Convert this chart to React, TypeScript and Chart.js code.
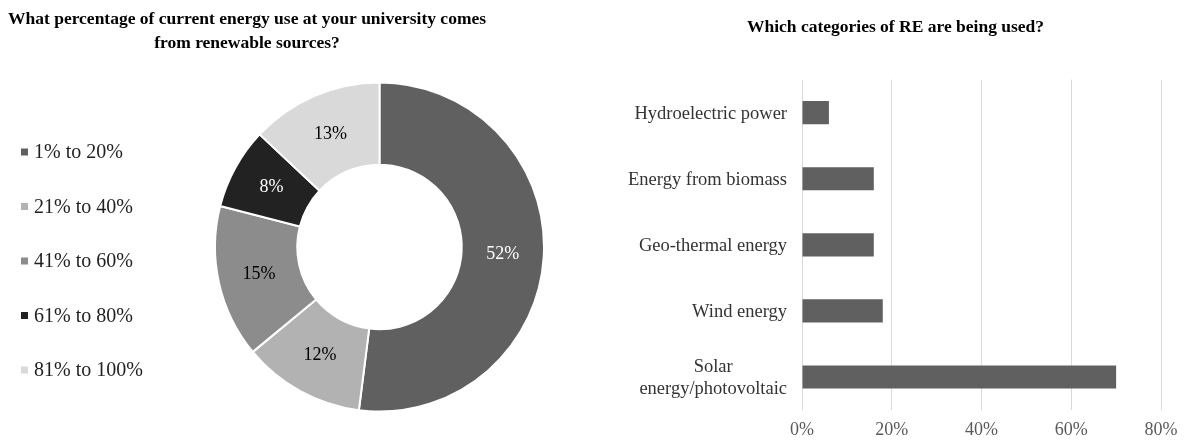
import React, { useEffect, useRef } from "react";
import { Chart, registerables } from "chart.js";

Chart.register(...registerables);

const FONT = '"Liberation Serif", "Times New Roman", serif';

// ---- Left chart data ----
const pieTitleLines = [
  "What percentage of current energy use at your university comes",
  "from renewable sources?",
];
const pieLabels = ["1% to 20%", "21% to 40%", "41% to 60%", "61% to 80%", "81% to 100%"];
const pieValues = [52, 12, 15, 8, 13];
const pieColors = ["#606060", "#b2b2b2", "#8c8c8c", "#222222", "#d9d9d9"];
const pieLabelColors = ["#ffffff", "#000000", "#000000", "#ffffff", "#000000"];

// ---- Right chart data ----
const barTitle = "Which categories of RE are being used?";
const barCategories = [
  ["Hydroelectric power"],
  ["Energy from biomass"],
  ["Geo-thermal energy"],
  ["Wind energy"],
  ["Solar", "energy/photovoltaic"],
];
const barValues = [6, 16, 16, 18, 70];
const xTickMin = 0;
const xTickMax = 80;
const xTickStep = 20;

const pieExtras = {
  id: "pieExtras",
  afterDatasetsDraw(chart: any) {
    const ctx = chart.ctx;
    const meta = chart.getDatasetMeta(0);
    ctx.save();
    ctx.font = `18px ${FONT}`;
    ctx.textAlign = "center";
    ctx.textBaseline = "middle";
    meta.data.forEach((arc: any, i: number) => {
      const p = arc.tooltipPosition(false);
      ctx.fillStyle = pieLabelColors[i];
      ctx.fillText(chart.data.datasets[0].data[i] + "%", p.x, p.y);
    });
    ctx.restore();
  },
  afterDraw(chart: any) {
    const ctx = chart.ctx;
    ctx.save();
    ctx.font = `bold 17.5px ${FONT}`;
    ctx.fillStyle = "#000000";
    ctx.textAlign = "center";
    ctx.textBaseline = "middle";
    pieTitleLines.forEach((l, i) => ctx.fillText(l, 247, 19 + i * 24.5));
    const ds = chart.data.datasets[0];
    ctx.font = `20px ${FONT}`;
    ctx.textAlign = "left";
    chart.data.labels.forEach((lab: string, i: number) => {
      const y = 152 + i * 54.5;
      ctx.fillStyle = ds.backgroundColor[i];
      ctx.fillRect(21, y - 3.5, 7, 7);
      ctx.fillStyle = "#1f1f1f";
      ctx.fillText(lab, 34, y + 1);
    });
    ctx.restore();
  },
};

const yLabels = {
  id: "yLabels",
  afterDraw(chart: any) {
    const ctx = chart.ctx;
    const ys = chart.scales.y;
    ctx.save();
    ctx.font = `18.5px ${FONT}`;
    ctx.fillStyle = "#333333";
    ctx.textAlign = "center";
    ctx.textBaseline = "middle";
    chart.data.labels.forEach((lab: any, i: number) => {
      const lines: string[] = Array.isArray(lab) ? lab : [lab];
      const w = Math.max(...lines.map((l) => ctx.measureText(l).width));
      const cx = ys.right - 15 - w / 2;
      const py = ys.getPixelForTick(i) + 1;
      const lh = 22;
      lines.forEach((l, j) => ctx.fillText(l, cx, py + (j - (lines.length - 1) / 2) * lh));
    });
    ctx.restore();
  },
};

export default function App() {
  const leftRef = useRef<HTMLCanvasElement>(null);
  const rightRef = useRef<HTMLCanvasElement>(null);

  useEffect(() => {
    const left = new Chart(leftRef.current as HTMLCanvasElement, {
      type: "doughnut",
      data: {
        labels: pieLabels,
        datasets: [
          {
            data: pieValues,
            backgroundColor: pieColors,
            borderColor: "#ffffff",
            borderWidth: 2,
          },
        ],
      },
      options: {
        responsive: false,
        animation: false,
        cutout: "50%",
        layout: { padding: { left: 200, right: 41, top: 81.5, bottom: 28.5 } },
        plugins: {
          legend: { display: false },
          tooltip: { enabled: false },
          title: { display: false },
        },
      },
      plugins: [pieExtras],
    } as any);

    const right = new Chart(rightRef.current as HTMLCanvasElement, {
      type: "bar",
      data: {
        labels: barCategories,
        datasets: [
          {
            data: barValues,
            backgroundColor: "#606060",
            borderWidth: 0,
            barPercentage: 0.35,
            categoryPercentage: 1,
          },
        ],
      },
      options: {
        indexAxis: "y",
        responsive: false,
        animation: false,
        layout: { padding: { left: 0, right: 20, top: 0, bottom: 0 } },
        plugins: {
          legend: { display: false },
          tooltip: { enabled: false },
          title: {
            display: true,
            text: barTitle,
            color: "#000000",
            font: { family: FONT, size: 17.5, weight: "bold", lineHeight: 1.35 },
            padding: { top: 16, bottom: 40 },
          },
        },
        scales: {
          x: {
            min: xTickMin,
            max: xTickMax,
            ticks: {
              stepSize: xTickStep,
              callback: (v: any) => v + "%",
              color: "#595959",
              font: { family: FONT, size: 18 },
              padding: 9,
            },
            grid: { color: "#d9d9d9", drawTicks: false, lineWidth: 1 },
            border: { display: false },
            afterFit: (s: any) => {
              s.height = 31;
              s.paddingRight = 23;
            },
          },
          y: {
            ticks: { display: false },
            grid: { display: false },
            border: { display: false },
            afterFit: (s: any) => {
              s.width = 175;
            },
          },
        },
      },
      plugins: [yLabels],
    } as any);

    return () => {
      left.destroy();
      right.destroy();
    };
  }, []);

  return (
    <div style={{ position: "fixed", left: 0, top: 0, width: 1184, height: 441, background: "#ffffff" }}>
      <canvas
        ref={leftRef}
        width={600}
        height={441}
        style={{ position: "absolute", left: 0, top: 0, width: 600, height: 441 }}
      />
      <canvas
        ref={rightRef}
        width={557}
        height={441}
        style={{ position: "absolute", left: 627, top: 0, width: 557, height: 441 }}
      />
    </div>
  );
}
